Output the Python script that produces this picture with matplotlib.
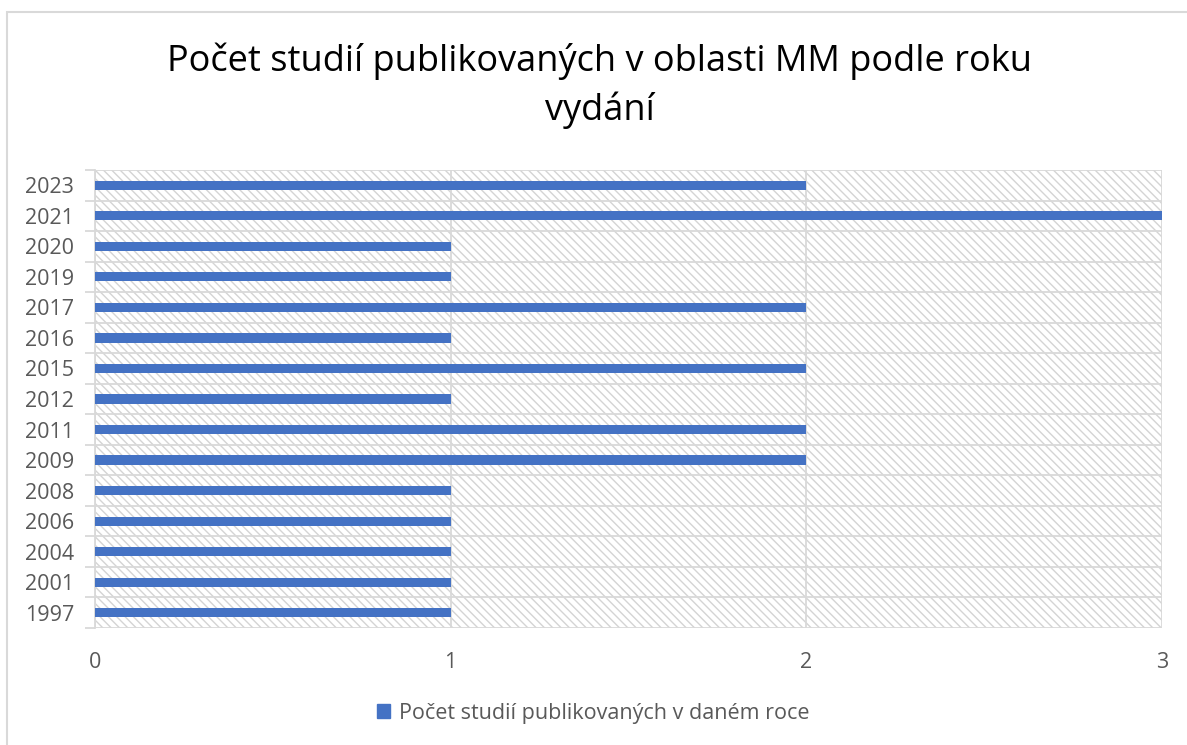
import numpy as np
import matplotlib.pyplot as plt
from matplotlib.patches import Rectangle
from matplotlib.ticker import FixedLocator

plt.rcParams['font.family'] = ['Open Sans', 'DejaVu Sans']
plt.rcParams['hatch.color'] = '#d4d4d4'
plt.rcParams['hatch.linewidth'] = 1.0

years = ['2023', '2021', '2020', '2019', '2017', '2016', '2015', '2012',
         '2011', '2009', '2008', '2006', '2004', '2001', '1997']
counts = [2, 3, 1, 1, 2, 1, 2, 1, 2, 2, 1, 1, 1, 1, 1]
series_name = 'Počet studií publikovaných v daném roce'
title = 'Počet studií publikovaných v oblasti MM podle roku\nvydání'

blue = '#4472c4'
grid = '#d9d9d9'
txt = '#595959'

# bottom to top order
ys = years[::-1]
vals = counts[::-1]
pos = np.arange(len(ys))

fig = plt.figure(figsize=(11.87, 7.45), dpi=100)
ax = fig.add_axes([95 / 1187, 1 - 628 / 745, (1162 - 95) / 1187, (628 - 170) / 745])

# hatched background
ax.add_patch(Rectangle((0, 0), 1, 1, transform=ax.transAxes, facecolor='white',
                       edgecolor='#d4d4d4', hatch='\\\\\\\\', lw=0, zorder=0))

ax.barh(pos, vals, height=0.3, color=blue, zorder=3)

ax.set_xlim(0, 3)
ax.set_ylim(-0.5, len(ys) - 0.5)
ax.set_xticks([0, 1, 2, 3])
ax.set_yticks(pos)
ax.set_yticklabels(ys)
ax.yaxis.set_minor_locator(FixedLocator(np.arange(-0.5, len(ys), 1)))
ax.tick_params(axis='y', which='major', length=0, labelsize=15.5, labelcolor=txt, pad=15)
ax.tick_params(axis='y', which='minor', length=7, color=grid, width=1.3)
ax.tick_params(axis='x', length=0, labelsize=15.5, labelcolor=txt, pad=17)
ax.grid(axis='y', which='minor', color=grid, lw=1.3, zorder=1)
ax.grid(axis='x', which='major', color=grid, lw=1.3, zorder=1)
for s in ['top', 'right', 'bottom']:
    ax.spines[s].set_visible(False)
ax.spines['left'].set_color(grid)
ax.spines['left'].set_linewidth(1.3)

fig.text(0.505, 1 - 86 / 745, title, ha='center', va='center', fontsize=26,
         color='black', linespacing=1.4)

# legend
ax.legend([Rectangle((0, 0), 1, 1, color=blue)], [series_name], loc='center',
          bbox_to_anchor=(0.5, 1 - 713 / 745), bbox_transform=fig.transFigure,
          frameon=False, fontsize=15.5, handlelength=0.6, handleheight=0.6,
          handletextpad=0.4, labelcolor=txt)

# chart border
fig.add_artist(Rectangle((7 / 1187, -0.1), 1.2, 1 - 12 / 745 + 0.1,
                         transform=fig.transFigure, fill=False,
                         edgecolor='#d9d9d9', lw=1.5))

fig.savefig('out.png', dpi=100)
